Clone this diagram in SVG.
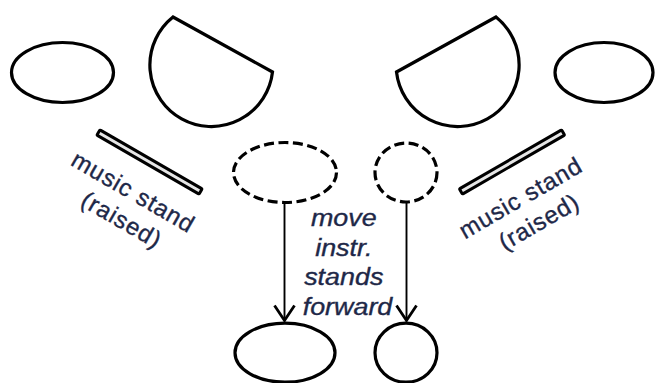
<svg xmlns="http://www.w3.org/2000/svg" width="657" height="383" viewBox="0 0 657 383">
  <style>
    .shape { fill: #ffffff; stroke: #000000; stroke-width: 3.2; }
    .dashed { fill: none; stroke: #000000; stroke-width: 3.2; stroke-dasharray: 10 4.5; }
    .stand { fill: #e6e6e6; stroke: #000000; stroke-width: 3; }
    .conn { fill: none; stroke: #000000; stroke-width: 1.9; }
    .label { font-family: "Liberation Sans", Arial, sans-serif; font-size: 24px; fill: #1e2848; text-anchor: middle; stroke: #1e2848; stroke-width: 0.35; }
    .rot { letter-spacing: 0.9px; }
    .italic { font-style: italic; }
  </style>
  <defs>
    <marker id="vhead" markerUnits="userSpaceOnUse" markerWidth="24" markerHeight="24" viewBox="-20 -12 24 24" refX="0" refY="0" orient="auto">
      <path d="M -15 -10 L 0 0 L -15 10" fill="none" stroke="#000000" stroke-width="2.8" stroke-linejoin="miter"/>
    </marker>
  </defs>

  <rect width="657" height="383" fill="#ffffff"/>

  <!-- back row: left -->
  <g id="left-seat">
    <ellipse class="shape" cx="62.5" cy="72.5" rx="51" ry="30"/>
  </g>
  <g id="left-cello">
    <path class="shape" d="M 173 17 L 272.5 72 A 61.5 61.5 0 1 1 173 17 Z"/>
  </g>

  <!-- back row: right -->
  <g id="right-cello">
    <path class="shape" d="M 496 17 L 396.5 72 A 61.5 61.5 0 1 0 496 17 Z"/>
  </g>
  <g id="right-seat">
    <ellipse class="shape" cx="604" cy="72.5" rx="49" ry="30"/>
  </g>

  <!-- raised music stands -->
  <g id="left-stand">
    <rect class="stand" x="-59" y="-3" width="118" height="6" rx="1" transform="translate(149.5 162) rotate(30)"/>
    <text class="label rot" transform="translate(132.5 201) rotate(30)">
      <tspan x="0" y="0">music stand</tspan>
      <tspan x="0" y="30">(raised)</tspan>
    </text>
  </g>
  <g id="right-stand">
    <rect class="stand" x="-59" y="-3" width="118" height="6" rx="1" transform="translate(512 162) rotate(-30)"/>
    <text class="label rot" transform="translate(528 203) rotate(-30)">
      <tspan x="0" y="0">music stand</tspan>
      <tspan x="0" y="30">(raised)</tspan>
    </text>
  </g>

  <!-- current instrument stand positions -->
  <g id="old-stand-left">
    <ellipse class="dashed" cx="285" cy="172.5" rx="51.5" ry="30"/>
  </g>
  <g id="old-stand-right">
    <ellipse class="dashed" cx="406" cy="172.5" rx="31" ry="29.5"/>
  </g>

  <!-- new instrument stand positions -->
  <g id="new-stand-left">
    <ellipse class="shape" cx="285" cy="352.7" rx="50" ry="29.5"/>
  </g>
  <g id="new-stand-right">
    <ellipse class="shape" cx="406" cy="352.7" rx="31" ry="29.5"/>
  </g>

  <!-- connectors -->
  <g id="connectors">
    <line class="conn" x1="284.5" y1="202.5" x2="284.5" y2="320.5" marker-end="url(#vhead)"/>
    <line class="conn" x1="406.5" y1="202" x2="406.5" y2="320.5" marker-end="url(#vhead)"/>
  </g>

  <g id="move-note">
    <text class="label italic" transform="translate(347.5 0) scale(1.12 1)">
      <tspan x="0" y="226.5">move</tspan>
      <tspan x="0" y="256">instr.</tspan>
      <tspan x="0" y="285.5">stands</tspan>
      <tspan x="0" y="315">forward</tspan>
    </text>
  </g>
</svg>
